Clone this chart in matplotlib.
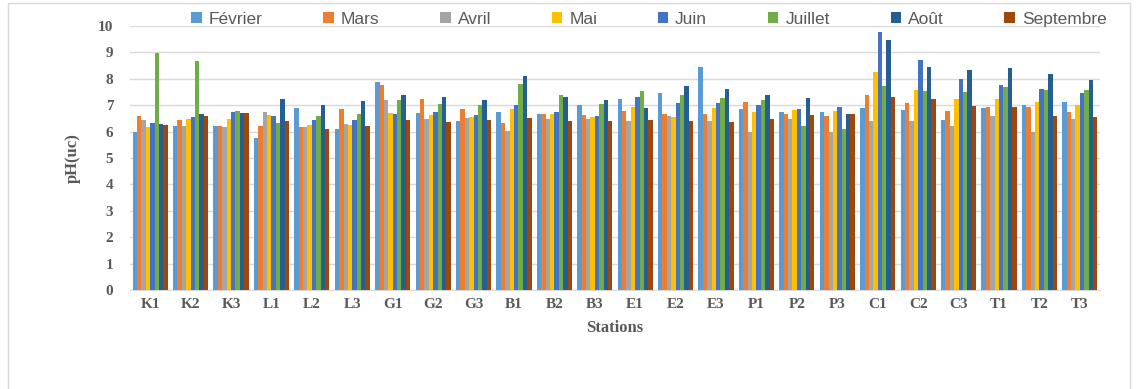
import matplotlib.pyplot as plt
import numpy as np
from matplotlib.patches import Rectangle

stations = ['K1', 'K2', 'K3', 'L1', 'L2', 'L3', 'G1', 'G2', 'G3', 'B1', 'B2', 'B3',
            'E1', 'E2', 'E3', 'P1', 'P2', 'P3', 'C1', 'C2', 'C3', 'T1', 'T2', 'T3']
months = ['Février', 'Mars', 'Avril', 'Mai', 'Juin', 'Juillet', 'Août', 'Septembre']

fevrier = [6.00, 6.21, 6.20, 5.76, 6.88, 6.11, 7.89, 6.69, 6.39, 6.75, 6.65, 6.99,
           7.25, 7.48, 8.43, 6.87, 6.73, 6.73, 6.88, 6.83, 6.45, 6.91, 6.99, 7.11]
mars = [6.60, 6.44, 6.21, 6.21, 6.19, 6.86, 7.77, 7.25, 6.86, 6.33, 6.65, 6.63,
        6.77, 6.65, 6.65, 7.11, 6.67, 6.59, 7.38, 7.08, 6.78, 6.93, 6.94, 6.74]
avril = [6.44, 6.21, 6.19, 6.75, 6.19, 6.29, 7.21, 6.49, 6.52, 6.04, 6.49, 6.49,
         6.39, 6.58, 6.42, 6.00, 6.49, 6.00, 6.39, 6.39, 6.20, 6.58, 6.00, 6.49]
mai = [6.19, 6.49, 6.49, 6.63, 6.26, 6.24, 6.72, 6.62, 6.57, 6.87, 6.67, 6.57,
       6.92, 6.57, 6.88, 6.74, 6.83, 6.78, 8.26, 7.58, 7.23, 7.23, 7.12, 6.99]
juin = [6.31, 6.54, 6.74, 6.60, 6.45, 6.43, 6.68, 6.74, 6.64, 6.99, 6.74, 6.58,
        7.30, 7.09, 7.09, 6.99, 6.86, 6.92, 9.77, 8.72, 8.00, 7.75, 7.60, 7.46]
juillet = [8.96, 8.68, 6.79, 6.31, 6.58, 6.68, 7.18, 7.03, 7.00, 7.80, 7.37, 7.04,
           7.53, 7.40, 7.27, 7.21, 6.21, 6.10, 7.72, 7.53, 7.50, 7.69, 7.56, 7.56]
aout = [6.29, 6.67, 6.70, 7.22, 6.99, 7.16, 7.38, 7.30, 7.21, 8.10, 7.30, 7.19,
        6.89, 7.72, 7.60, 7.38, 7.27, 6.65, 9.46, 8.44, 8.35, 8.40, 8.20, 7.96]
septembre = [6.24, 6.58, 6.70, 6.41, 6.10, 6.23, 6.43, 6.36, 6.44, 6.52, 6.41, 6.40,
             6.45, 6.39, 6.36, 6.48, 6.62, 6.67, 7.32, 7.25, 6.96, 6.93, 6.58, 6.54]

series = [fevrier, mars, avril, mai, juin, juillet, aout, septembre]
colors = ['#5B9BD5', '#ED7D31', '#A5A5A5', '#FFC000',
          '#4472C4', '#70AD47', '#255E91', '#9E480E']

serif = {'family': 'Liberation Serif', 'weight': 'bold', 'color': '#595959'}

fig = plt.figure(figsize=(11.36, 3.89), dpi=100)
fig.patches.append(Rectangle((8 / 1136, -0.01), 1 - 14 / 1136, 1 - 3 / 389 + 0.01,
                             transform=fig.transFigure, fill=False,
                             edgecolor='#D9D9D9', linewidth=1))
ax = fig.add_axes([130 / 1136, 1 - 290 / 389, 970 / 1136, 264 / 389])

x = np.arange(len(stations))
n = len(series)
width = 0.87 / n
for i, (vals, col, name) in enumerate(zip(series, colors, months)):
    ax.bar(x - 0.435 + width * (i + 0.5), vals, width, color=col, label=name,
           zorder=3)

ax.set_xlim(-0.5, len(stations) - 0.5)
ax.set_ylim(0, 10)
ax.set_yticks(range(0, 11))
ax.set_xticks(x)
ax.set_xticklabels(stations, fontdict=serif, fontsize=11)
ax.set_yticklabels([str(v) for v in range(0, 11)], fontdict=serif, fontsize=11)
ax.tick_params(length=0, pad=12)
ax.tick_params(axis='x', pad=6)
ax.grid(axis='y', color='#D9D9D9', linewidth=1, zorder=0)
for s in ['top', 'right', 'left']:
    ax.spines[s].set_visible(False)
ax.spines['bottom'].set_color('#D9D9D9')

ax.set_xlabel('Stations', fontdict=serif, fontsize=12, labelpad=6)
ax.set_ylabel('pH(uc)', fontdict=serif, fontsize=12, labelpad=12)

leg = ax.legend(loc='center', bbox_to_anchor=(0.535, 1.025), ncol=8, frameon=False,
                prop={'family': 'Liberation Sans', 'size': 12.5},
                handlelength=0.6, handleheight=0.6, handletextpad=0.4,
                columnspacing=3.5, borderaxespad=0)
for t in leg.get_texts():
    t.set_color('#595959')

fig.savefig('out.png', dpi=100)
